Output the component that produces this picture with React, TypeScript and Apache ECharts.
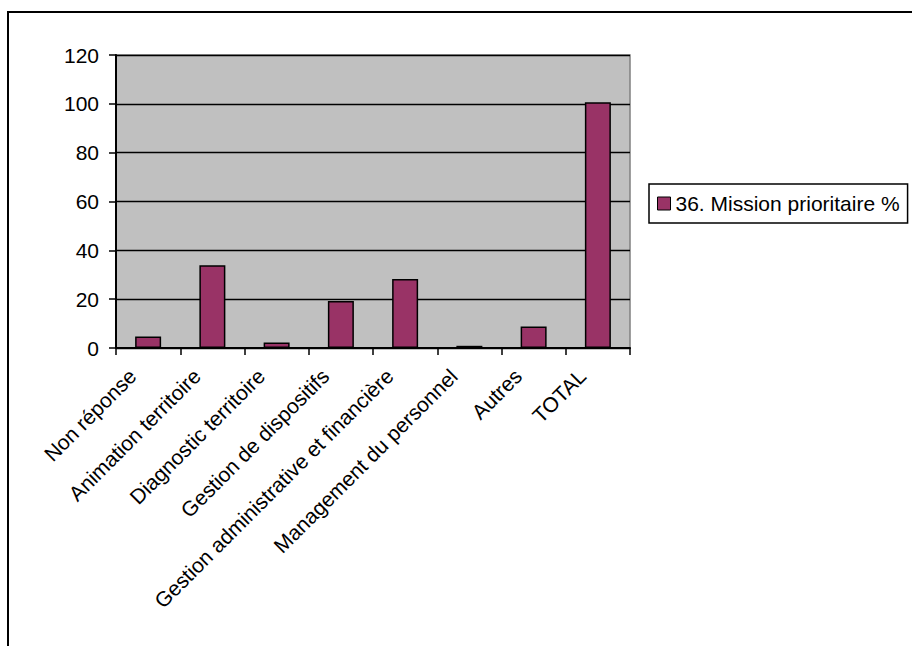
import React, { useEffect, useRef } from "react";
import * as echarts from "echarts";

const categories = [
  "Non réponse",
  "Animation territoire",
  "Diagnostic territoire",
  "Gestion de dispositifs",
  "Gestion administrative et financière",
  "Management du personnel",
  "Autres",
  "TOTAL",
];
const seriesName = "36. Mission prioritaire %";
const values = [4.7, 33.9, 2.3, 19.2, 28.3, 0.9, 8.8, 100.6];
const yTicks = { min: 0, max: 120, interval: 20 };

const FONT = "'Liberation Sans', Arial, sans-serif";

export default function App() {
  const ref = useRef<HTMLDivElement>(null);
  useEffect(() => {
    if (!ref.current) return;
    const chart = echarts.init(ref.current, undefined, { renderer: "svg" });
    chart.setOption({
      animation: false,
      backgroundColor: "#ffffff",
      textStyle: { fontFamily: FONT },
      graphic: [
        {
          type: "rect",
          z: 100,
          shape: { x: 8, y: 12, width: 1000, height: 1000 },
          style: { fill: "none", stroke: "#000", lineWidth: 2 },
          silent: true,
        },
      ],
      grid: {
        left: 116,
        right: 282,
        top: 55,
        bottom: 298,
        show: true,
        backgroundColor: "#C0C0C0",
        borderColor: "#808080",
        borderWidth: 1.5,
        containLabel: false,
      },
      legend: {
        orient: "vertical",
        left: 649,
        top: 184,
        padding: [9, 8, 9, 8],
        borderColor: "#000",
        borderWidth: 1.5,
        backgroundColor: "#fff",
        itemWidth: 13,
        itemHeight: 13,
        icon: "rect",
        itemStyle: { borderColor: "#000", borderWidth: 1 },
        textStyle: { fontSize: 21, color: "#000", fontFamily: FONT, lineHeight: 21 },
        data: [seriesName],
      },
      xAxis: {
        type: "category",
        data: categories,
        axisLine: { lineStyle: { color: "#000", width: 2 } },
        axisTick: { show: true, length: 7, lineStyle: { color: "#000", width: 1.5 } },
        axisLabel: {
          interval: 0,
          rotate: 45,
          fontSize: 21,
          color: "#000",
          fontFamily: FONT,
          margin: 9,
          padding: [0, 22, 0, 0],
        },
        splitLine: { show: false },
      },
      yAxis: {
        type: "value",
        min: yTicks.min,
        max: yTicks.max,
        interval: yTicks.interval,
        axisLine: { show: true, lineStyle: { color: "#000", width: 2 } },
        axisTick: { show: true, length: 7, lineStyle: { color: "#000", width: 1.5 } },
        axisLabel: { fontSize: 21, color: "#000", fontFamily: FONT, margin: 17 },
        splitLine: { show: true, lineStyle: { color: "#000", width: 1.3 } },
      },
      series: [
        {
          name: seriesName,
          type: "bar",
          data: values,
          barWidth: 26,
          itemStyle: { color: "#993366", borderColor: "#000", borderWidth: 1.5 },
        },
      ],
    });
    return () => chart.dispose();
  }, []);
  return (
    <div
      ref={ref}
      style={{ position: "absolute", left: 0, top: 0, width: 912, height: 646, background: "#fff" }}
    />
  );
}
